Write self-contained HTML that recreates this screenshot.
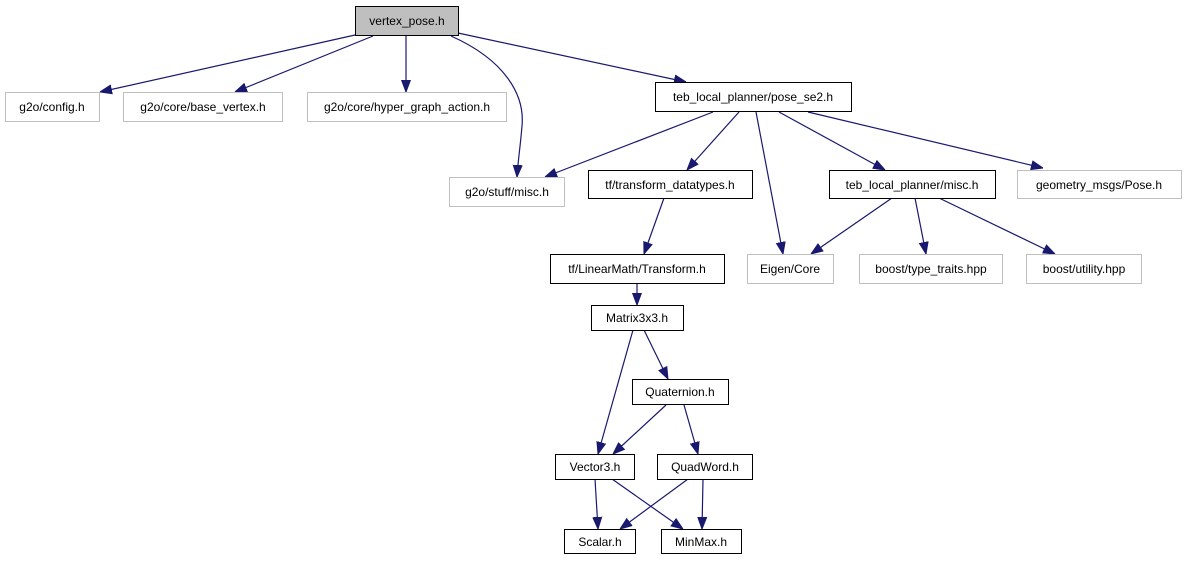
<!DOCTYPE html>
<html><head><meta charset="utf-8"><style>
html,body{margin:0;padding:0;background:#fff;}
svg text{font-family:"Liberation Sans",Helvetica,sans-serif;font-size:12px;text-anchor:middle;fill:#000;}
</style></head><body>
<svg width="1185" height="560" viewBox="0 0 1185 560" xmlns="http://www.w3.org/2000/svg">
<defs>
<marker id="a" viewBox="0 0 12 12" refX="12" refY="6" markerWidth="12" markerHeight="12" markerUnits="userSpaceOnUse" orient="auto">
<path d="M0,1.5 L12,6 L0,10.5 Z" fill="#191970" stroke="#191970"/>
</marker>
</defs>
<g stroke="#191970" stroke-width="1.2" fill="none" marker-end="url(#a)">
<line x1="355" y1="35" x2="100" y2="92"/>
<line x1="373" y1="36" x2="235" y2="92"/>
<line x1="406" y1="36" x2="406" y2="92"/>
<path d="M451,36 C505,60 525,95 522,126 C520,150 518,160 517,177"/>
<line x1="458" y1="33" x2="686" y2="82"/>
<line x1="713" y1="112" x2="545" y2="177"/>
<line x1="739" y1="112" x2="687" y2="170"/>
<line x1="756" y1="112" x2="783" y2="254"/>
<line x1="779" y1="112" x2="885" y2="170"/>
<line x1="808" y1="112" x2="1043" y2="168"/>
<line x1="892" y1="198" x2="811" y2="254"/>
<line x1="915" y1="198" x2="926" y2="254"/>
<line x1="939" y1="198" x2="1055" y2="254"/>
<line x1="664" y1="198" x2="644" y2="254"/>
<line x1="637" y1="284" x2="637" y2="305"/>
<line x1="633" y1="330" x2="598" y2="454"/>
<line x1="644" y1="330" x2="668" y2="379"/>
<line x1="666" y1="405" x2="613" y2="454"/>
<line x1="684" y1="405" x2="698" y2="454"/>
<line x1="595" y1="479" x2="598" y2="529"/>
<line x1="612" y1="479" x2="683" y2="529"/>
<line x1="688" y1="479" x2="620" y2="529"/>
<line x1="703" y1="479" x2="702" y2="529"/>
</g>
<g stroke-width="1">
<rect x="355.5" y="6.5" width="103" height="29" fill="#bfbfbf" stroke="#000"/>
<rect x="5.5" y="92.5" width="94" height="29" fill="#fff" stroke="#bfbfbf"/>
<rect x="123.5" y="92.5" width="159" height="29" fill="#fff" stroke="#bfbfbf"/>
<rect x="307.5" y="92.5" width="199" height="29" fill="#fff" stroke="#bfbfbf"/>
<rect x="655.5" y="82.5" width="196" height="29" fill="#fff" stroke="#000"/>
<rect x="449.5" y="177.5" width="115" height="29" fill="#fff" stroke="#bfbfbf"/>
<rect x="588.5" y="170.5" width="164" height="28" fill="#fff" stroke="#000"/>
<rect x="829.5" y="170.5" width="166" height="28" fill="#fff" stroke="#000"/>
<rect x="1017.5" y="170.5" width="164" height="28" fill="#fff" stroke="#bfbfbf"/>
<rect x="550.5" y="254.5" width="174" height="29" fill="#fff" stroke="#000"/>
<rect x="747.5" y="254.5" width="86" height="29" fill="#fff" stroke="#bfbfbf"/>
<rect x="859.5" y="254.5" width="143" height="29" fill="#fff" stroke="#bfbfbf"/>
<rect x="1026.5" y="254.5" width="115" height="29" fill="#fff" stroke="#bfbfbf"/>
<rect x="591.5" y="305.5" width="92" height="25" fill="#fff" stroke="#000"/>
<rect x="632.5" y="379.5" width="96" height="25" fill="#fff" stroke="#000"/>
<rect x="555.5" y="454.5" width="79" height="25" fill="#fff" stroke="#000"/>
<rect x="657.5" y="454.5" width="95" height="25" fill="#fff" stroke="#000"/>
<rect x="564.5" y="529.5" width="71" height="24" fill="#fff" stroke="#000"/>
<rect x="661.5" y="529.5" width="80" height="24" fill="#fff" stroke="#000"/>
</g>
<text x="407" y="25">vertex_pose.h</text>
<text x="52" y="111">g2o/config.h</text>
<text x="203" y="111">g2o/core/base_vertex.h</text>
<text x="407" y="111">g2o/core/hyper_graph_action.h</text>
<text x="753" y="101">teb_local_planner/pose_se2.h</text>
<text x="507" y="196">g2o/stuff/misc.h</text>
<text x="670" y="189">tf/transform_datatypes.h</text>
<text x="912" y="189">teb_local_planner/misc.h</text>
<text x="1099" y="189">geometry_msgs/Pose.h</text>
<text x="637" y="273">tf/LinearMath/Transform.h</text>
<text x="790" y="273">Eigen/Core</text>
<text x="931" y="273">boost/type_traits.hpp</text>
<text x="1084" y="273">boost/utility.hpp</text>
<text x="637" y="322">Matrix3x3.h</text>
<text x="680" y="396">Quaternion.h</text>
<text x="595" y="471">Vector3.h</text>
<text x="705" y="471">QuadWord.h</text>
<text x="600" y="546">Scalar.h</text>
<text x="701" y="546">MinMax.h</text>
</svg>
</body></html>
